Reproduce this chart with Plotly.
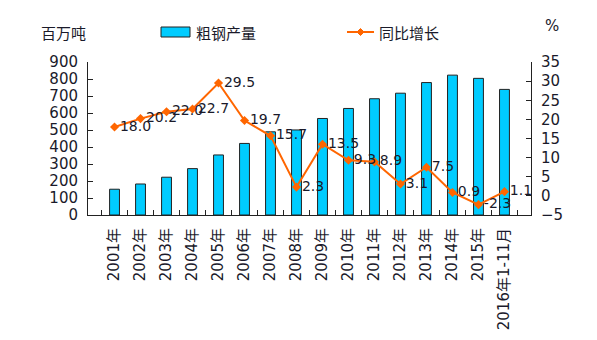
import plotly.graph_objects as go

categories = ["2001年", "2002年", "2003年", "2004年", "2005年", "2006年", "2007年", "2008年",
              "2009年", "2010年", "2011年", "2012年", "2013年", "2014年", "2015年", "2016年1-11月"]
output_mt = [151.6, 182.4, 222.3, 272.8, 353.2, 421.0, 489.3, 500.3,
             567.8, 626.7, 683.9, 716.5, 779.0, 822.7, 803.8, 738.8]
growth_pct = [18.0, 20.2, 22.0, 22.7, 29.5, 19.7, 15.7, 2.3,
              13.5, 9.3, 8.9, 3.1, 7.5, 0.9, -2.3, 1.1]
growth_labels = [f"{v:.1f}" for v in growth_pct]

W, H = 597, 340
L, R, T, B = 88, 531, 62, 215
FONT = "DejaVu Sans, Noto Sans CJK SC"
TXT = "#1a1a2a"

def px(x):
    return (x - L) / (R - L)

def py(y):
    return (B - y) / (B - T)

fig = go.Figure()
fig.add_trace(go.Bar(x=categories, y=output_mt, name="粗钢产量", width=0.38,
                     marker=dict(color="#00CCFF", line=dict(color="#222222", width=1)),
                     showlegend=False))
fig.add_trace(go.Scatter(x=categories, y=growth_pct, name="同比增长", yaxis="y2",
                         mode="lines+markers+text", text=growth_labels,
                         textposition="middle right",
                         textfont=dict(family=FONT, size=14, color=TXT),
                         line=dict(color="#FF6600", width=2),
                         marker=dict(symbol="diamond", size=7, color="#FF6600"),
                         cliponaxis=False, showlegend=False))

axis_common = dict(showline=True, linecolor="#222222", linewidth=1, ticks="inside",
                   ticklen=5, tickcolor="#222222", showgrid=False, zeroline=False,
                   ticklabelstandoff=6, automargin=False,
                   tickfont=dict(family=FONT, size=15, color=TXT))

fig.update_layout(
    width=W, height=H, margin=dict(l=L, r=W - R, t=T, b=H - B),
    paper_bgcolor="white", plot_bgcolor="white",
    font=dict(family=FONT, color=TXT),
    bargap=0.62,
    xaxis=dict(**axis_common, type="category", tickson="boundaries", tickangle=-90),
    yaxis=dict(**axis_common, range=[0, 900], dtick=100),
    yaxis2=dict(**axis_common, range=[-5, 35], dtick=5, overlaying="y", side="right"),
    shapes=[
        dict(type="rect", xref="paper", yref="paper", x0=px(161), x1=px(190),
             y0=py(37), y1=py(27), fillcolor="#00CCFF", line=dict(color="#222222", width=1)),
        dict(type="line", xref="paper", yref="paper", x0=px(347), x1=px(374),
             y0=py(32), y1=py(32), line=dict(color="#FF6600", width=2)),
        dict(type="path", xref="paper", yref="paper",
             path=f"M {px(360.5)} {py(28.5)} L {px(364)} {py(32)} L {px(360.5)} {py(35.5)} L {px(357)} {py(32)} Z",
             fillcolor="#FF6600", line=dict(color="#FF6600", width=1)),
    ],
    annotations=[
        dict(text="粗钢产量", xref="paper", yref="paper", x=px(194), y=py(32),
             xanchor="left", yanchor="middle", showarrow=False,
             font=dict(family="Noto Sans CJK SC", size=15, color=TXT)),
        dict(text="同比增长", xref="paper", yref="paper", x=px(377), y=py(32),
             xanchor="left", yanchor="middle", showarrow=False,
             font=dict(family="Noto Sans CJK SC", size=15, color=TXT)),
        dict(text="百万吨", xref="paper", yref="paper", x=px(39), y=py(32),
             xanchor="left", yanchor="middle", showarrow=False,
             font=dict(family="Noto Sans CJK SC", size=15, color=TXT)),
        dict(text="%", xref="paper", yref="paper", x=px(552), y=py(26),
             xanchor="center", yanchor="middle", showarrow=False,
             font=dict(family=FONT, size=15, color=TXT)),
    ],
)

fig.write_html("out.html")
